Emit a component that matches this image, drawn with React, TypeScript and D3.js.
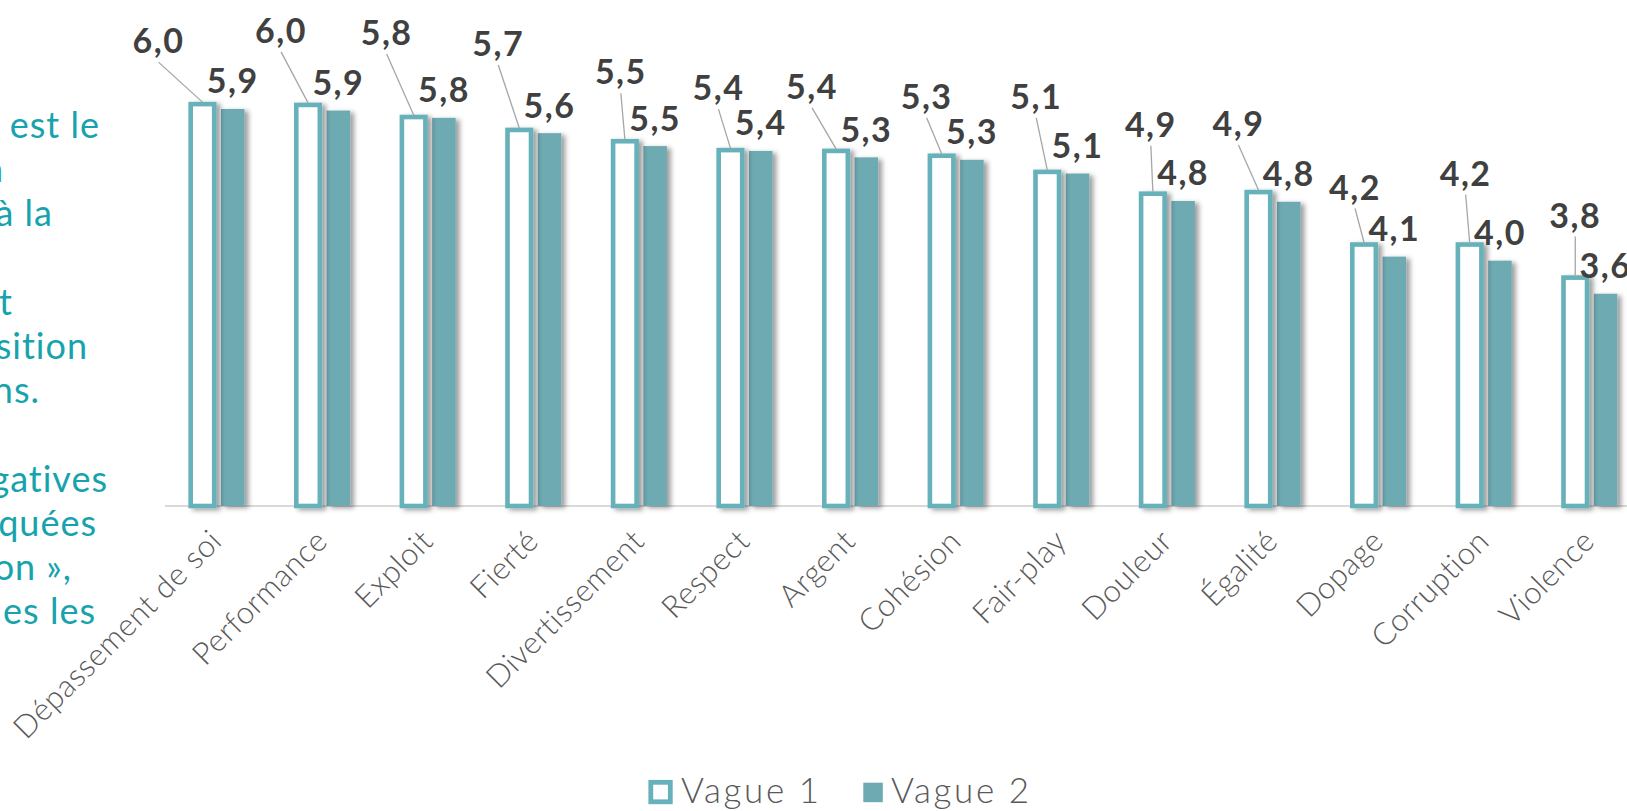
import React from "react";
import * as d3 from "d3";

const categories = [
  "Dépassement de soi", "Performance", "Exploit", "Fierté", "Divertissement",
  "Respect", "Argent", "Cohésion", "Fair-play", "Douleur", "Égalité",
  "Dopage", "Corruption", "Violence",
];
const vague1 = [5.98, 5.97, 5.82, 5.66, 5.52, 5.41, 5.4, 5.34, 5.14, 4.87, 4.89, 4.24, 4.24, 3.83];
const vague2 = [5.92, 5.9, 5.81, 5.62, 5.46, 5.4, 5.32, 5.29, 5.12, 4.78, 4.77, 4.09, 4.04, 3.63];
const seriesNames = ["Vague 1", "Vague 2"];

// manual placement of the Vague 1 labels (dx, dy from the bar top), as in the original
const v1LabelShift: [number, number][] = [
  [-44, -51], [-27, -62], [-27, -72], [-21, -74], [-4, -57], [-12, -50], [-24, -52],
  [-15, -47], [-11, -63], [-2, -57], [-20, -56], [-9, -45], [-4, -59], [0, -50],
];

// fragment of a side paragraph that is cut by the frame
const introLines = ["est le", "n", "à la", "", "t", "sition", "ns.", "", "gatives", "quées", "on »,", "es les"];
const introRightEdge = [100, 4, 53, 0, 13, 88, 40, 0, 108, 97, 72, 96];

const W = 1627;
const H = 811;
const TEAL_LINE = "#66b1ba";
const TEAL_FILL = "#6eaab2";
const LABEL = "#404040";
const AXIS_TXT = "#595959";
const FONT = "Lato, 'Open Sans', sans-serif";

const locale = d3.formatLocale({ decimal: ",", thousands: " ", grouping: [3], currency: ["", "€"] });
const fmt = locale.format(".1f");

export default function App() {
  const baseY = 506;
  const y = d3.scaleLinear().domain([1, 7]).range([baseY, baseY - 6 * 80.7]);
  const x0 = d3.scaleBand<string>().domain(categories).range([164.8, 1643.2]).paddingInner(0).paddingOuter(0);
  const x1 = d3
    .scaleBand<string>()
    .domain(seriesNames)
    .range([0, x0.bandwidth()])
    .paddingInner(0.224)
    .paddingOuter(0.855);
  const bw = x1.bandwidth();

  return (
    <>
      <style>{`body{margin:0;background:#fff}`}</style>
      <svg width={W} height={H} style={{ display: "block", fontFamily: FONT }}>
        <defs>
          <filter id="shadow" x="-50%" y="-10%" width="200%" height="120%">
            <feDropShadow dx="4" dy="2" stdDeviation="2.5" floodColor="#000" floodOpacity="0.38" />
          </filter>
        </defs>
        <rect x={0} y={0} width={W} height={H} fill="#fff" />

        {/* side paragraph fragment */}
        <g fill="#17a3ad" fontSize={36} fontFamily={FONT} letterSpacing={1}>
          {introLines.map((t, i) =>
            t ? (
              <text key={i} x={introRightEdge[i]} y={138 + i * 44.2} textAnchor="end">
                {t}
              </text>
            ) : null
          )}
        </g>

        {/* baseline */}
        <line x1={165} x2={W} y1={baseY} y2={baseY} stroke="#d9d9d9" strokeWidth={2} />

        {/* bars */}
        {categories.map((c, i) => {
          const bx0 = x0(c)!;
          const xa = bx0 + x1("Vague 1")!;
          const xb = bx0 + x1("Vague 2")!;
          return (
            <g key={c}>
              <rect
                x={xb}
                y={y(vague2[i])}
                width={bw}
                height={baseY - y(vague2[i])}
                fill={TEAL_FILL}
                filter="url(#shadow)"
              />
              <rect
                x={xa}
                y={y(vague1[i])}
                width={bw}
                height={baseY - y(vague1[i])}
                fill="#fff"
                stroke={TEAL_LINE}
                strokeWidth={4.6}
                filter="url(#shadow)"
              />
            </g>
          );
        })}

        {/* labels */}
        {categories.map((c, i) => {
          const bx0 = x0(c)!;
          const ca = bx0 + x1("Vague 1")! + bw / 2;
          const cb = bx0 + x1("Vague 2")! + bw / 2;
          const [dx, dy] = v1LabelShift[i];
          const lx = ca + dx;
          const ly = y(vague1[i]) + dy;
          return (
            <g key={c}>
              <line
                x1={lx}
                y1={ly + 9}
                x2={ca}
                y2={y(vague1[i]) - 2}
                stroke="#a6a6a6"
                strokeWidth={1.3}
              />
              <text x={lx} y={ly} textAnchor="middle" fontSize={34} fontWeight={700} letterSpacing={1.5} fill={LABEL}>
                {fmt(vague1[i])}
              </text>
              <text x={cb} y={y(vague2[i]) - 15.5} textAnchor="middle" fontSize={34} fontWeight={700} letterSpacing={1.5} fill={LABEL}>
                {fmt(vague2[i])}
              </text>
            </g>
          );
        })}

        {/* category axis labels */}
        {categories.map((c) => {
          const cx = x0(c)! + x0.bandwidth() / 2;
          return (
            <text
              key={c}
              transform={`translate(${cx + 6},${543}) rotate(-45)`}
              textAnchor="end"
              fontSize={31}
              letterSpacing={0.5}
              fontWeight={300}
              fill={AXIS_TXT}
            >
              {c}
            </text>
          );
        })}

        {/* legend */}
        <g fontSize={35} fill={AXIS_TXT} fontWeight={300} letterSpacing={2.6}>
          <rect x={650.8} y={782.3} width={19.5} height={19.5} fill="#fff" stroke={TEAL_LINE} strokeWidth={4.8} />
          <text x={681} y={803}>{seriesNames[0]}</text>
          <rect x={863.3} y={782.7} width={19.5} height={19.5} fill={TEAL_FILL} />
          <text x={891} y={803}>{seriesNames[1]}</text>
        </g>
      </svg>
    </>
  );
}
